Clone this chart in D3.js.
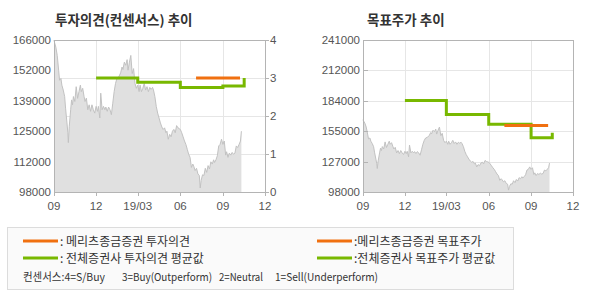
<!DOCTYPE html>
<html>
<head>
<meta charset="utf-8">
<script src="https://cdn.jsdelivr.net/npm/d3@7"></script>
<style>
  body { margin: 0; background: #fff; }
  svg { display: block; }
</style>
</head>
<body>
<svg id="chart" width="590" height="300"></svg>
<script>
// ---- data ----
const startDate = '2018-09-01';
const monthTicks = ['2018-09-01', '2018-12-01', '2019-03-01', '2019-06-01', '2019-09-01', '2019-12-01'];
const monthLabels = ['09', '12', '19/03', '06', '09', '12'];

// close price, as days after startDate (approx. read off the gray area)
const priceDays = [
  0, 1, 4, 7, 10, 12, 15, 17, 20, 23, 25, 28, 30, 31, 33, 36, 38, 40, 42, 45,
  48, 51, 54, 57, 59, 62, 65, 67, 70, 73, 76, 79, 82, 85, 88, 91, 94, 96, 99, 101,
  104, 107, 110, 112, 115, 118, 121, 124, 127, 130, 133, 136, 140, 144, 147, 149, 152, 155, 158, 160,
  163, 166, 169, 172, 175, 178, 181, 184, 186, 189, 192, 195, 198, 201, 204, 207, 210, 213, 215, 218,
  221, 224, 227, 230, 233, 236, 239, 242, 244, 247, 250, 253, 256, 259, 262, 265, 268, 271, 273, 276,
  279, 282, 285, 288, 291, 294, 297, 300, 302, 305, 308, 311, 314, 316, 318, 321, 324, 327, 330, 333,
  336, 339, 342, 345, 347, 350, 353, 356, 359, 362, 365, 368, 371, 373, 376, 379, 382, 385, 388, 391,
  394, 397, 400, 403, 405
];
const priceValues = [
  166000, 165000, 162800, 159100, 152500, 148000, 148800, 145800, 143600, 140700,
  135500, 128900, 124500, 120100, 127400, 134800, 139200, 137000, 140700, 138500,
  145100, 139900, 142900, 145800, 142900, 144400, 140700, 138500, 140000, 134800,
  137000, 134100, 137000, 134800, 133300, 136300, 134100, 136300, 131100, 142200,
  134800, 136300, 134800, 136000, 134100, 136000, 134800, 132600, 137700, 142900,
  146600, 148800, 149500, 151300, 153900, 152800, 156100, 154700, 157200, 152500,
  156100, 159100, 151000, 153200, 146600, 144400, 145800, 142900, 145800, 142900,
  144400, 146600, 143600, 145100, 142900, 144800, 143900, 144800, 143600, 140700,
  136300, 133300, 131100, 128900, 127100, 126000, 126700, 124500, 125200, 121600,
  123800, 122700, 125200, 126000, 124500, 127700, 126700, 126300, 126000, 124500,
  122700, 120800, 119300, 117100, 114900, 113500, 109000, 110500, 109500, 107600,
  108600, 106100, 105400, 99800, 103200, 105700, 105400, 108600, 106800, 109800,
  108300, 111500, 110500, 112400, 111200, 112400, 114200, 118600, 119300, 121600,
  119300, 120800, 114500, 116000, 113500, 115400, 114500, 115700, 114900, 115400,
  118600, 117900, 119300, 120800, 125200
];

// 전체증권사 투자의견 평균값 (0-4 scale)
const consDates = ['2018-12-01', '2019-03-01', '2019-06-01', '2019-09-01', '2019-10-17'];
const consValues = [3.0, 2.89, 2.75, 2.79, 3.0];

// 메리츠종금증권 투자의견
const meritzOpDates = ['2019-07-05', '2019-10-08'];
const meritzOpValues = [3.0, 3.0];

// 전체증권사 목표주가 평균값
const targetDates = ['2018-12-01', '2019-03-01', '2019-06-01', '2019-09-01', '2019-10-17'];
const targetValues = [184000, 171000, 161800, 149100, 153700];

// 메리츠종금증권 목표주가
const meritzTgtDates = ['2019-07-05', '2019-10-08'];
const meritzTgtValues = [160600, 160600];

const leftTickLabels = ['98000', '112000', '125000', '139000', '152000', '166000'];
const rightTickLabels = ['98000', '127000', '155000', '184000', '212000', '241000'];
const opinionTicks = [0, 1, 2, 3, 4];

const legendItems = [
  { label: ': 메리츠종금증권 투자의견', color: '#f07010' },
  { label: ': 전체증권사 투자의견 평균값', color: '#78b800' },
  { label: ':메리츠종금증권 목표주가', color: '#f07010' },
  { label: ':전체증권사 목표주가 평균값', color: '#78b800' }
];
const consensusNotes = ['컨센서스:4=S/Buy', '3=Buy(Outperform)', '2=Neutral', '1=Sell(Underperform)'];

// ---- helpers ----
const parse = d3.timeParse('%Y-%m-%d');
const zip = (ds, vs) => ds.map((d, i) => ({ date: parse(d), v: vs[i] }));
const price = priceDays.map((d, i) => ({ date: d3.timeDay.offset(parse(startDate), d), v: priceValues[i] }));

const GREEN = '#78b800';
const ORANGE = '#f07010';
const GRID = '#e6e6e6';
const AXIS = '#b4b4b4';
const LABEL = '#555';
const LABEL_FONT = '"Liberation Sans", Arial, sans-serif';
const KR_FONT = '"Noto Sans CJK KR", "Noto Sans", sans-serif';

const svg = d3.select('#chart');
const px = (v) => Math.round(v) + 0.5;

function drawPanel(cfg) {
  const g = svg.append('g');
  const x = d3.scaleTime()
    .domain([parse(monthTicks[0]), parse(monthTicks[monthTicks.length - 1])])
    .range([cfg.left, cfg.right]);
  const y = d3.scaleLinear().domain(cfg.domain).range([cfg.bottom, cfg.top]);
  const [lo, hi] = cfg.domain;
  const tickPos = cfg.tickLabels.map((t, i) => y(lo + i * (hi - lo) / (cfg.tickLabels.length - 1)));

  // title
  g.append('text')
    .attr('x', cfg.titleX).attr('y', 25)
    .attr('font-family', KR_FONT).attr('font-size', 13.5).attr('font-weight', 700)
    .attr('fill', '#333')
    .text(cfg.title);

  // horizontal gridlines
  g.append('g').selectAll('line')
    .data(cfg.hGrid(tickPos))
    .join('line')
    .attr('x1', cfg.left).attr('x2', cfg.right)
    .attr('y1', px).attr('y2', px)
    .attr('stroke', GRID);

  // vertical gridlines
  g.append('g').selectAll('line')
    .data(monthTicks.slice(1, -1))
    .join('line')
    .attr('x1', (d) => px(x(parse(d)))).attr('x2', (d) => px(x(parse(d))))
    .attr('y1', cfg.top).attr('y2', cfg.bottom)
    .attr('stroke', GRID);

  // price area
  const yPrice = d3.scaleLinear().domain(cfg.domain).range([cfg.bottom, cfg.top]).clamp(true);
  g.append('path')
    .datum(price)
    .attr('fill', '#e0e0e0')
    .attr('d', d3.area().x((d) => x(d.date)).y0(cfg.bottom).y1((d) => yPrice(d.v)));
  g.append('path')
    .datum(price)
    .attr('fill', 'none')
    .attr('stroke', '#c2c2c2')
    .attr('stroke-width', 1)
    .attr('d', d3.line().x((d) => x(d.date)).y((d) => yPrice(d.v)));

  // frame
  g.append('rect')
    .attr('x', cfg.left + 0.5).attr('y', cfg.top + 0.5)
    .attr('width', cfg.right - cfg.left).attr('height', cfg.bottom - cfg.top)
    .attr('fill', 'none').attr('stroke', AXIS);

  // left tick labels
  g.append('g').selectAll('text')
    .data(cfg.tickLabels)
    .join('text')
    .attr('x', cfg.left - 3)
    .attr('y', (d, i) => tickPos[i] + 4)
    .attr('text-anchor', 'end')
    .attr('font-family', LABEL_FONT).attr('font-size', 11.5)
    .attr('fill', LABEL)
    .text((d) => d);

  if (cfg.innerTicks) {
    g.append('g').selectAll('line')
      .data(tickPos)
      .join('line')
      .attr('x1', cfg.left).attr('x2', cfg.left + 5)
      .attr('y1', px).attr('y2', px)
      .attr('stroke', AXIS);
  }

  // bottom ticks + labels
  g.append('g').selectAll('line')
    .data(monthTicks)
    .join('line')
    .attr('x1', (d) => px(x(parse(d)))).attr('x2', (d) => px(x(parse(d))))
    .attr('y1', cfg.bottom).attr('y2', cfg.bottom + 4)
    .attr('stroke', AXIS);
  g.append('g').selectAll('text')
    .data(monthTicks)
    .join('text')
    .attr('x', (d) => x(parse(d)))
    .attr('y', cfg.bottom + 18)
    .attr('text-anchor', 'middle')
    .attr('font-family', LABEL_FONT).attr('font-size', 11.5)
    .attr('fill', LABEL)
    .text((d, i) => monthLabels[i]);

  return { g, x, y };
}

const stepLine = (x, y) => d3.line().curve(d3.curveStepAfter).x((d) => x(d.date)).y((d) => y(d.v));

// ---- left panel: 투자의견 ----
const yOp = d3.scaleLinear().domain([0, 4]).range([192, 40]);
const leftPanel = drawPanel({
  title: '투자의견(컨센서스) 추이', titleX: 55,
  left: 54, right: 265, top: 40, bottom: 192,
  domain: [98000, 166000], tickLabels: leftTickLabels,
  hGrid: () => opinionTicks.slice(1, -1).map((t) => yOp(t)),
  innerTicks: false
});

// right axis (opinion 0-4)
leftPanel.g.append('g').selectAll('line')
  .data(opinionTicks)
  .join('line')
  .attr('x1', 265).attr('x2', 269)
  .attr('y1', (d) => px(yOp(d))).attr('y2', (d) => px(yOp(d)))
  .attr('stroke', AXIS);
leftPanel.g.append('g').selectAll('text')
  .data(opinionTicks)
  .join('text')
  .attr('x', 270)
  .attr('y', (d) => yOp(d) + 4)
  .attr('font-family', LABEL_FONT).attr('font-size', 11.5)
  .attr('fill', LABEL)
  .text((d) => d);

leftPanel.g.append('path')
  .datum(zip(consDates, consValues))
  .attr('fill', 'none').attr('stroke', GREEN).attr('stroke-width', 3)
  .attr('d', stepLine(leftPanel.x, yOp));
leftPanel.g.append('path')
  .datum(zip(meritzOpDates, meritzOpValues))
  .attr('fill', 'none').attr('stroke', ORANGE).attr('stroke-width', 3)
  .attr('d', stepLine(leftPanel.x, yOp));

// ---- right panel: 목표주가 ----
const rightPanel = drawPanel({
  title: '목표주가 추이', titleX: 367,
  left: 363, right: 573, top: 40, bottom: 192,
  domain: [98000, 241000], tickLabels: rightTickLabels,
  hGrid: (pos) => pos.slice(1, -1),
  innerTicks: true
});
rightPanel.g.append('path')
  .datum(zip(targetDates, targetValues))
  .attr('fill', 'none').attr('stroke', GREEN).attr('stroke-width', 3)
  .attr('d', stepLine(rightPanel.x, rightPanel.y));
rightPanel.g.append('path')
  .datum(zip(meritzTgtDates, meritzTgtValues))
  .attr('fill', 'none').attr('stroke', ORANGE).attr('stroke-width', 3)
  .attr('d', stepLine(rightPanel.x, rightPanel.y));

// ---- legend box ----
const legend = svg.append('g');
legend.append('rect')
  .attr('x', 7.5).attr('y', 227.5).attr('width', 506).attr('height', 62)
  .attr('fill', '#fafafa').attr('stroke', '#dcdcdc');

const legendPos = [
  { x: 23, y: 241 }, { x: 23, y: 258 }, { x: 317, y: 241 }, { x: 317, y: 258 }
];
const item = legend.selectAll('g.item')
  .data(legendItems)
  .join('g')
  .attr('class', 'item')
  .attr('transform', (d, i) => `translate(${legendPos[i].x}, ${legendPos[i].y})`);
item.append('line')
  .attr('x1', 0).attr('x2', 35).attr('y1', 0).attr('y2', 0)
  .attr('stroke', (d) => d.color).attr('stroke-width', 3);
item.append('text')
  .attr('x', 37).attr('y', 4.5)
  .attr('font-family', KR_FONT).attr('font-size', 12)
  .attr('fill', '#333')
  .text((d) => d.label);

// consensus note pieces, squeezed to the widths seen in the picture
const noteX = [23, 122, 219, 275];
const noteW = [82, 90, 44, 103];
legend.selectAll('text.note')
  .data(consensusNotes)
  .join('text')
  .attr('class', 'note')
  .attr('x', (d, i) => noteX[i]).attr('y', 281)
  .attr('textLength', (d, i) => noteW[i])
  .attr('lengthAdjust', 'spacingAndGlyphs')
  .attr('font-family', KR_FONT).attr('font-size', 11)
  .attr('fill', '#333')
  .text((d) => d);
</script>
</body>
</html>
